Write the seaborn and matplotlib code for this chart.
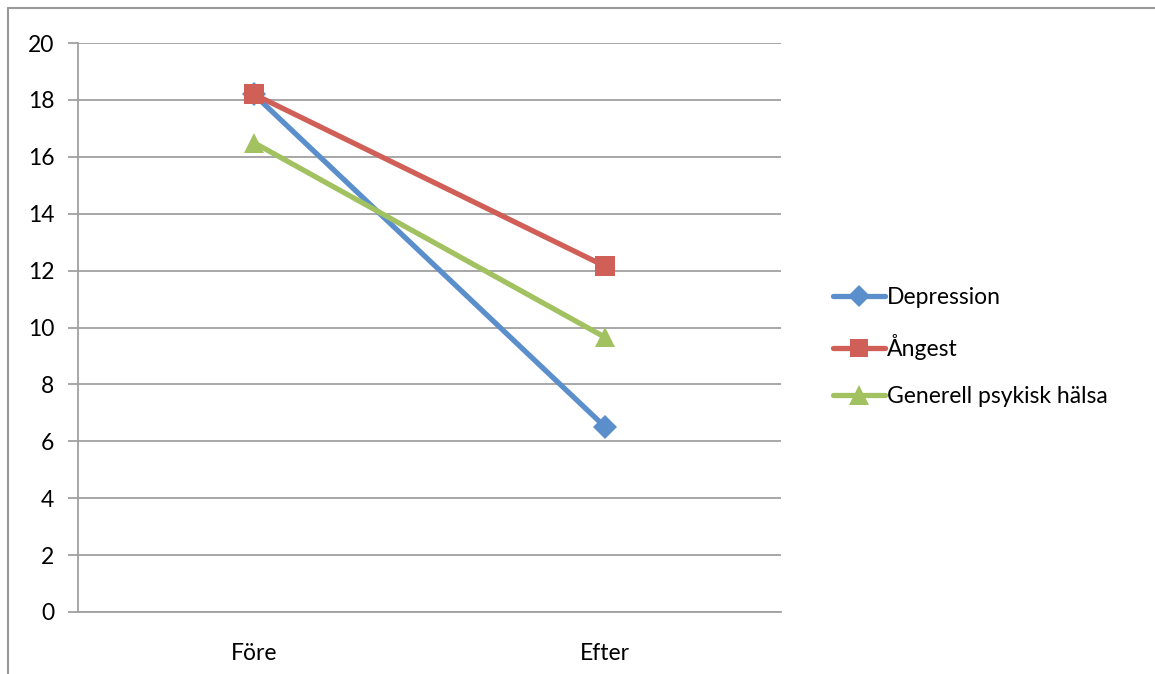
import pandas as pd
import matplotlib
matplotlib.use("Agg")
import matplotlib.pyplot as plt
import seaborn as sns
from matplotlib.lines import Line2D

# Data
tidpunkter = ["Före", "Efter"]
depression = [18.2, 6.5]
angest = [18.2, 12.15]
generell = [16.5, 9.65]
serier = ["Depression", "Ångest", "Generell psykisk hälsa"]

df = pd.DataFrame({
    "Tid": tidpunkter * 3,
    "Värde": depression + angest + generell,
    "Serie": [serier[0]] * 2 + [serier[1]] * 2 + [serier[2]] * 2,
})

sns.set_style("white")
plt.rcParams["font.family"] = ["Lato", "DejaVu Sans"]
plt.rcParams["text.color"] = "black"
plt.rcParams["xtick.labelcolor"] = "black"
plt.rcParams["ytick.labelcolor"] = "black"

farger = {"Depression": "#5A8FCB", "Ångest": "#D05F58", "Generell psykisk hälsa": "#A2C261"}
markorer = {"Depression": "D", "Ångest": "s", "Generell psykisk hälsa": "^"}
storlek = {"Depression": 12, "Ångest": 14.5, "Generell psykisk hälsa": 15}

fig = plt.figure(figsize=(11.55, 6.74), dpi=100)
ax = fig.add_axes([78 / 1155, 1 - 612 / 674, (781 - 78) / 1155, (612 - 43) / 674])

for s in serier:
    sns.lineplot(data=df[df["Serie"] == s], x="Tid", y="Värde", ax=ax,
                 color=farger[s], marker=markorer[s], markersize=storlek[s],
                 markeredgewidth=0, linewidth=3.8, label=s, legend=False,
                 sort=False, zorder=3)

ax.set_xlim(-0.5, 1.5)
ax.set_ylim(0, 20)
ax.set_yticks(range(0, 21, 2))
ax.grid(axis="y", color="#A0A0A0", linewidth=1.3)
ax.set_xlabel("")
ax.set_ylabel("")

ax.set_xticks([0, 1])
ax.set_xticklabels(tidpunkter)
ax.set_xticks([-0.5, 0.5, 1.5], minor=True)
ax.tick_params(axis="x", which="major", length=0, pad=22, labelsize=16.5)
ax.tick_params(axis="x", which="minor", length=7, width=1.3, color="#A0A0A0", direction="out")
ax.tick_params(axis="y", length=7, width=1.3, color="#A0A0A0", direction="out", left=True, pad=10, labelsize=16.5)

for side in ["top", "right"]:
    ax.spines[side].set_visible(False)
for side in ["left", "bottom"]:
    ax.spines[side].set_color("#A0A0A0")
    ax.spines[side].set_linewidth(1.3)

handles = [Line2D([], [], color=farger[s], marker=markorer[s], markersize=storlek[s] - 1,
                  markeredgewidth=0, linewidth=3.8) for s in serier]
fig.legend(handles, serier, loc="center left", bbox_to_anchor=(0.711, 0.485),
           frameon=False, fontsize=16.5, handlelength=2.3, handletextpad=0.05,
           labelspacing=1.15, borderpad=0)

# outer chart border (top and left visible)
fig.add_artist(Line2D([8 / 1155, 1], [1 - 8 / 674, 1 - 8 / 674], color="#999999", linewidth=1.5))
fig.add_artist(Line2D([8 / 1155, 8 / 1155], [0, 1 - 8 / 674], color="#999999", linewidth=1.5))

fig.savefig("out.png", dpi=100)
